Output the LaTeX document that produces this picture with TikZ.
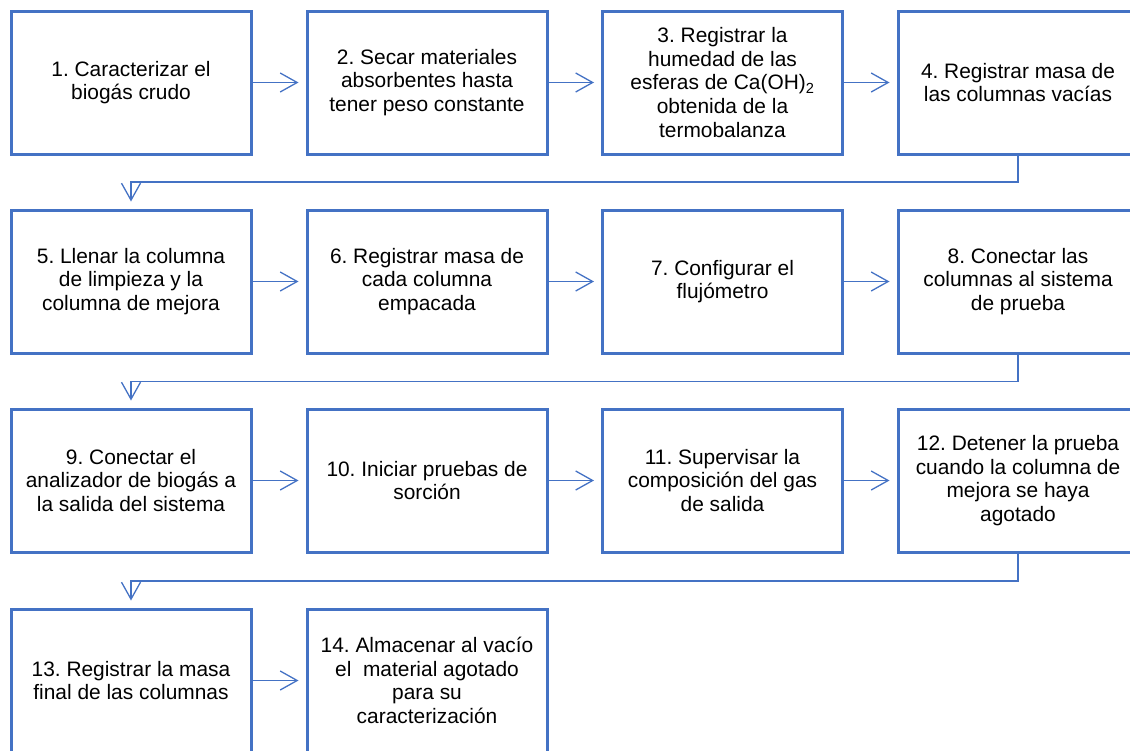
\documentclass[tikz,border=0pt]{standalone}
\usepackage{fontspec}
\setmainfont{Liberation Sans}
\usetikzlibrary{arrows.meta}
\definecolor{boxblue}{HTML}{4472C4}
\frenchspacing
\begin{document}
\begin{tikzpicture}[x=1pt,y=-1pt,
  stepbox/.style={draw=boxblue, line width=3pt, fill=white, rectangle,
    minimum width=240pt, minimum height=143pt, align=center, inner sep=0pt,
    font=\fontsize{20.9}{23.6}\selectfont},
  flow/.style={draw=boxblue, line width=1.3pt,
    -{Straight Barb[length=17pt,width=19pt,line width=1.3pt]}, shorten >=7pt}]
\useasboundingbox (0,0) rectangle (1130,750);
\clip (0,0) rectangle (1130,750);
% step boxes, four per row
\node[stepbox] (s1)  at (131,82.5)   {1. Caracterizar el\\biogás crudo};
\node[stepbox] (s2)  at (427,82.5)   {2. Secar materiales\\absorbentes hasta\\tener peso constante};
\node[stepbox] (s3)  at (722.5,82.5) {3. Registrar la\\humedad de las\\esferas de Ca(OH)\textsubscript{2}\\obtenida de la\\termobalanza};
\node[stepbox] (s4)  at (1018,82.5)  {4. Registrar masa de\\las columnas vacías};
\node[stepbox] (s5)  at (131,281.5)  {5. Llenar la columna\\de limpieza y la\\columna de mejora};
\node[stepbox] (s6)  at (427,281.5)  {6. Registrar masa de\\cada columna\\empacada};
\node[stepbox] (s7)  at (722.5,281.5){7. Configurar el\\flujómetro};
\node[stepbox] (s8)  at (1018,281.5) {8. Conectar las\\columnas al sistema\\de prueba};
\node[stepbox] (s9)  at (131,480.5)  {9. Conectar el\\analizador de biogás a\\la salida del sistema};
\node[stepbox] (s10) at (427,480.5)  {10. Iniciar pruebas de\\sorción};
\node[stepbox] (s11) at (722.5,480.5){11. Supervisar la\\composición del gas\\de salida};
\node[stepbox] (s12) at (1018,480.5) {12. Detener la prueba\\cuando la columna de\\mejora se haya\\agotado};
\node[stepbox] (s13) at (131,680.5)  {13. Registrar la masa\\final de las columnas};
\node[stepbox] (s14) at (427,680.5)  {14. Almacenar al vacío\\el\ \ material agotado\\para su\\caracterización};
% connectors within rows
\draw[flow] (s1) -- (s2);
\draw[flow] (s2) -- (s3);
\draw[flow] (s3) -- (s4);
\draw[flow] (s5) -- (s6);
\draw[flow] (s6) -- (s7);
\draw[flow] (s7) -- (s8);
\draw[flow] (s9) -- (s10);
\draw[flow] (s10) -- (s11);
\draw[flow] (s11) -- (s12);
\draw[flow] (s13) -- (s14);
% elbow connectors between rows
\draw[flow] (s4.south) |- (131,182) -- (s5.north);
\draw[flow] (s8.south) |- (131,381.5) -- (s9.north);
\draw[flow] (s12.south) |- (131,581) -- (s13.north);
\end{tikzpicture}
\end{document}
